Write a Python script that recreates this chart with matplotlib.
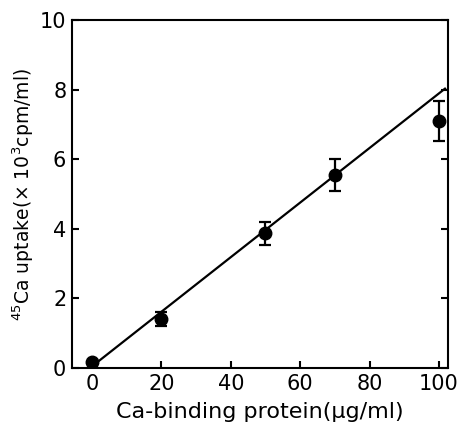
import numpy as np
import matplotlib
matplotlib.use("Agg")
import matplotlib.pyplot as plt

# data
protein = [0, 20, 50, 70, 100]           # ug/ml
uptake = [0.17, 1.41, 3.88, 5.55, 7.10]  # x10^3 cpm/ml
uptake_err = [0.0, 0.20, 0.33, 0.45, 0.57]

# fitted line (end points)
fit_x = [0, 102]
fit_y = [0.05, 8.05]

fig = plt.figure(figsize=(4.58, 4.28), dpi=100)
ax = fig.add_axes([0.157, 0.140, 0.821, 0.813])

ax.plot(fit_x, fit_y, color="black", lw=1.6, solid_capstyle="butt")
ax.errorbar(protein, uptake, yerr=uptake_err, fmt="o", color="black",
            ms=9, elinewidth=1.6, capsize=4, capthick=1.6)

ax.set_xlim(-5.8, 102.6)
ax.set_ylim(0, 10)
ax.set_xticks([0, 20, 40, 60, 80, 100])
ax.set_yticks([0, 2, 4, 6, 8, 10])

for s in ax.spines.values():
    s.set_linewidth(1.5)

ax.tick_params(direction="in", length=5, width=1.5, labelsize=15,
               right=True, top=False, pad=4)

ax.set_xlabel("Ca-binding protein(\u03bcg/ml)", fontsize=16, labelpad=6)
ax.set_ylabel("$^{45}$Ca uptake(\u00d7 10$^{3}$cpm/ml)", fontsize=13.5, labelpad=3)

fig.savefig("out.png", dpi=100)
